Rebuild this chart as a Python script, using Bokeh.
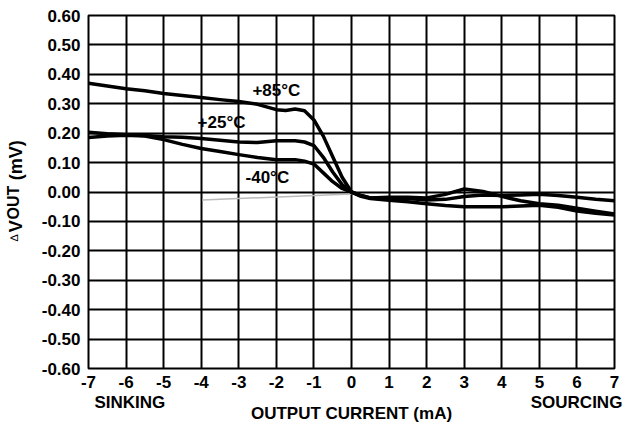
from bokeh.plotting import figure
from bokeh.models import Range1d, FixedTicker, NumeralTickFormatter, Label, LinearAxis
from bokeh.embed import file_html
from bokeh.resources import INLINE

# ---- data (output current in mA, delta Vout in mV) ----
x85 = [-7, -6.5, -6, -5.5, -5, -4.5, -4, -3.5, -3, -2.5, -2, -1.75, -1.5, -1.25, -1, -0.75, -0.5, -0.25, 0,
       0.25, 0.5, 1, 1.5, 2, 2.5, 3, 3.5, 4, 4.5, 5, 5.5, 6, 6.5, 7]
y85 = [0.370, 0.360, 0.351, 0.344, 0.335, 0.328, 0.321, 0.314, 0.308, 0.298, 0.280, 0.277, 0.282, 0.276, 0.245,
       0.190, 0.120, 0.050, 0.000,
       -0.012, -0.020, -0.018, -0.018, -0.020, -0.008, 0.010, 0.002, -0.015, -0.030, -0.040, -0.045, -0.055,
       -0.065, -0.075]

x25 = [-7, -6.5, -6, -5.5, -5, -4.5, -4, -3.5, -3, -2.5, -2, -1.5, -1.25, -1, -0.75, -0.5, -0.25, 0,
       0.25, 0.5, 1, 1.5, 2, 2.5, 3, 3.5, 4, 4.5, 5, 5.5, 6, 6.5, 7]
y25 = [0.203, 0.198, 0.195, 0.192, 0.188, 0.186, 0.182, 0.176, 0.170, 0.168, 0.174, 0.174, 0.170, 0.158, 0.118,
       0.068, 0.025, 0.000,
       -0.012, -0.020, -0.020, -0.022, -0.027, -0.025, -0.015, -0.010, -0.012, -0.010, -0.008, -0.012, -0.018,
       -0.025, -0.030]

xm40 = [-7, -6.5, -6, -5.5, -5, -4.5, -4, -3.5, -3, -2.5, -2, -1.5, -1.25, -1, -0.75, -0.5, -0.25, 0,
        0.25, 0.5, 1, 1.5, 2, 2.5, 3, 3.5, 4, 4.5, 5, 5.5, 6, 6.5, 7]
ym40 = [0.185, 0.190, 0.193, 0.190, 0.178, 0.162, 0.148, 0.138, 0.127, 0.117, 0.110, 0.110, 0.105, 0.095, 0.065,
        0.035, 0.012, 0.000,
        -0.015, -0.022, -0.028, -0.033, -0.040, -0.046, -0.050, -0.050, -0.050, -0.048, -0.045, -0.052, -0.065,
        -0.072, -0.078]

x_gray = [-3.97, 0.0]
y_gray = [-0.027, -0.007]

x_ticks = [-7, -6, -5, -4, -3, -2, -1, 0, 1, 2, 3, 4, 5, 6, 7]
y_ticks = [-0.6, -0.5, -0.4, -0.3, -0.2, -0.1, 0.0, 0.1, 0.2, 0.3, 0.4, 0.5, 0.6]

curve_labels = ["+85°C", "+25°C", "-40°C"]
label_x = [-2.0, -3.46, -2.24]
label_y = [0.344, 0.235, 0.05]

# direction captions under the x axis, and pieces of the y title (positions in data units)
dir_text = ["SINKING", "SOURCING"]
dir_x = [-5.9, 5.99]
x_title = "OUTPUT CURRENT (mA)"
ytitle_big = ["V", "(mV)"]
ytitle_big_y = [-0.116, 0.108]
ytitle_sub = ["OUT"]
ytitle_sub_y = [-0.036]
ytitle_delta = ["∆"]
ytitle_delta_y = [-0.156]

FONT = "Liberation Sans"
W, H = 626, 425
FL, FR, FT, FB = 88, 614, 15, 368   # frame edges in page pixels

p = figure(width=W, height=H, output_backend="svg", toolbar_location=None,
           x_range=Range1d(-7, 7), y_range=Range1d(-0.6, 0.6),
           min_border_left=FL, min_border_right=W - FR, min_border_top=FT, min_border_bottom=H - FB)
p.background_fill_color = "white"
p.border_fill_color = "white"
p.outline_line_color = "black"
p.outline_line_width = 2

p.xaxis.ticker = FixedTicker(ticks=x_ticks)
p.yaxis.ticker = FixedTicker(ticks=y_ticks)
p.xgrid.ticker = FixedTicker(ticks=x_ticks)
p.ygrid.ticker = FixedTicker(ticks=y_ticks)
p.yaxis.formatter = NumeralTickFormatter(format="0.00")
p.xaxis.major_label_overrides = {t: str(t) for t in x_ticks}
for g in (p.xgrid, p.ygrid):
    g.grid_line_color = "black"
    g.grid_line_width = 2
    g.grid_line_alpha = 1.0


def style_axis(ax, size="17px", fstyle="bold"):
    ax.axis_line_color = None
    ax.major_tick_line_color = None
    ax.minor_tick_line_color = None
    ax.major_tick_out = 0
    ax.major_tick_in = 0
    ax.major_label_text_font = FONT
    ax.major_label_text_font_style = fstyle
    ax.major_label_text_font_size = size
    ax.major_label_text_color = "black"


for ax in (p.xaxis, p.yaxis):
    style_axis(ax)
p.xaxis.major_label_standoff = 7
p.yaxis.major_label_standoff = 8

# second bottom axis: SINKING / SOURCING captions + x title
ax2 = LinearAxis(ticker=FixedTicker(ticks=dir_x),
                 major_label_overrides={v: t for v, t in zip(dir_x, dir_text)})
style_axis(ax2)
ax2.major_label_standoff = 2
ax2.axis_label = x_title
ax2.axis_label_text_font = FONT
ax2.axis_label_text_font_style = "bold"
ax2.axis_label_text_font_size = "17px"
ax2.axis_label_text_color = "black"
ax2.axis_label_standoff = -11
p.add_layout(ax2, "below")

# y title built from pieces on extra left axes
axA = LinearAxis(ticker=FixedTicker(ticks=ytitle_big_y),
                 major_label_overrides={v: t for v, t in zip(ytitle_big_y, ytitle_big)},
                 major_label_orientation="vertical")
style_axis(axA, "18px")
axA.major_label_standoff = 12
p.add_layout(axA, "left")

axB = LinearAxis(ticker=FixedTicker(ticks=ytitle_sub_y),
                 major_label_overrides={v: t for v, t in zip(ytitle_sub_y, ytitle_sub)},
                 major_label_orientation="vertical")
style_axis(axB, "16px")
axB.major_label_standoff = -19
p.add_layout(axB, "left")

axC = LinearAxis(ticker=FixedTicker(ticks=ytitle_delta_y),
                 major_label_overrides={v: t for v, t in zip(ytitle_delta_y, ytitle_delta)},
                 major_label_orientation="vertical")
style_axis(axC, "11px", "normal")
axC.major_label_standoff = -18
p.add_layout(axC, "left")

p.line(x_gray, y_gray, line_color="#bbbbbb", line_width=1.5)
for xs, ys in ((x85, y85), (x25, y25), (xm40, ym40)):
    p.line(xs, ys, line_color="black", line_width=3.5, line_join="round", line_cap="round")

for t, lx, ly in zip(curve_labels, label_x, label_y):
    p.add_layout(Label(x=lx, y=ly, text=t, text_align="center", text_baseline="middle",
                       text_font=FONT, text_font_style="bold", text_font_size="17px",
                       text_color="black"))

open("out.html", "w").write(file_html(p, INLINE))
